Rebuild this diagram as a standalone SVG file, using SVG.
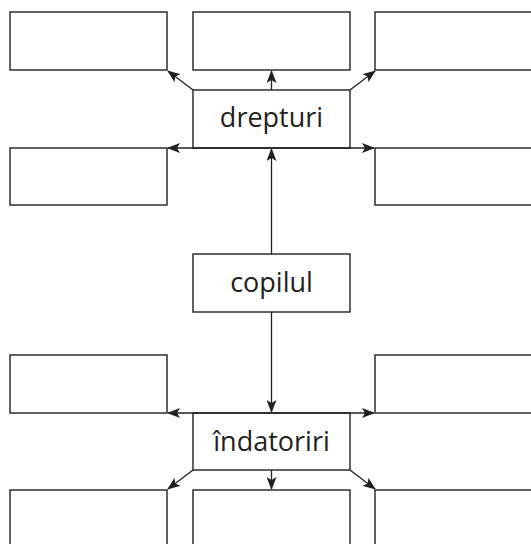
<svg xmlns="http://www.w3.org/2000/svg" width="531" height="544" viewBox="0 0 531 544">
<style>
.box{fill:#fff;stroke:#231f20;stroke-width:1.4}
.lbl{font-family:"Open Sans","Noto Sans",sans-serif;font-size:27px;fill:#231f20;text-anchor:middle}
.c{fill:none;stroke:#231f20;stroke-width:1.3}
</style>
<defs>
<marker id="ah" viewBox="0 0 13 10" refX="12" refY="5" markerWidth="13" markerHeight="10" markerUnits="userSpaceOnUse" orient="auto">
<path d="M0,0 L13,5 L0,10 L3,5 Z" fill="#231f20"/>
</marker>
</defs>
<g id="top-left"><rect class="box" x="10" y="12" width="157" height="58"/></g>
<g id="top-mid"><rect class="box" x="193" y="12" width="157" height="58"/></g>
<g id="top-right"><rect class="box" x="375" y="12" width="170" height="58"/></g>
<g id="row2-left"><rect class="box" x="10" y="148" width="157" height="57"/></g>
<g id="row2-right"><rect class="box" x="375" y="148" width="170" height="57"/></g>
<g id="drepturi"><rect class="box" x="193" y="90" width="157" height="58"/><text class="lbl" x="271.5" y="127">drepturi</text></g>
<g id="copilul"><rect class="box" x="193" y="254" width="157" height="58"/><text class="lbl" x="271.5" y="292">copilul</text></g>
<g id="row3-left"><rect class="box" x="10" y="355" width="157" height="58"/></g>
<g id="row3-right"><rect class="box" x="375" y="355" width="170" height="58"/></g>
<g id="indatoriri"><rect class="box" x="193" y="413" width="157" height="57"/><text class="lbl" x="271.5" y="451">îndatoriri</text></g>
<g id="bot-left"><rect class="box" x="10" y="490" width="157" height="60"/></g>
<g id="bot-mid"><rect class="box" x="193" y="490" width="157" height="60"/></g>
<g id="bot-right"><rect class="box" x="375" y="490" width="170" height="60"/></g>
<g id="connectors">
<line class="c" x1="193" y1="90" x2="168" y2="71" marker-end="url(#ah)"/>
<line class="c" x1="271.5" y1="90" x2="271.5" y2="71" marker-end="url(#ah)"/>
<line class="c" x1="350" y1="90" x2="375" y2="71" marker-end="url(#ah)"/>
<line class="c" x1="271.5" y1="148" x2="168" y2="148" marker-end="url(#ah)"/>
<line class="c" x1="271.5" y1="148" x2="374" y2="148" marker-end="url(#ah)"/>
<line class="c" x1="271.5" y1="254" x2="271.5" y2="149" marker-end="url(#ah)"/>
<line class="c" x1="271.5" y1="312" x2="271.5" y2="412" marker-end="url(#ah)"/>
<line class="c" x1="271.5" y1="413" x2="168" y2="413" marker-end="url(#ah)"/>
<line class="c" x1="271.5" y1="413" x2="374" y2="413" marker-end="url(#ah)"/>
<line class="c" x1="193" y1="470" x2="168" y2="489" marker-end="url(#ah)"/>
<line class="c" x1="271.5" y1="470" x2="271.5" y2="489" marker-end="url(#ah)"/>
<line class="c" x1="350" y1="470" x2="375" y2="489" marker-end="url(#ah)"/>
</g>
</svg>
